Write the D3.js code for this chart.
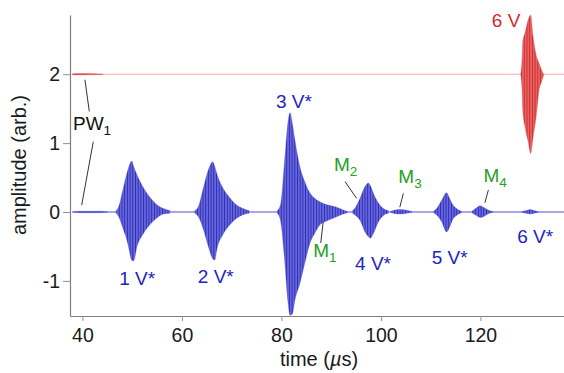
<!DOCTYPE html>
<html>
<head>
<meta charset="utf-8">
<script src="https://cdn.jsdelivr.net/npm/d3@7"></script>
<style>
  body { margin: 0; background: #fff; }
  svg { display: block; }
  text { font-family: "Liberation Sans", Arial, Helvetica, sans-serif; }
</style>
</head>
<body>
<svg id="chart" width="564" height="373"></svg>
<script>
// ---- data ----
const timeTicks = [40, 60, 80, 100, 120];
const ampTicks = [-1, 0, 1, 2];
const timeDomain = [37.5, 136.8];
const ampDomain = [-1.51, 2.86];

const blueBase = 0;
const redBase = 2;
const traceSpan = [37.9, 136.8];

// envelopes of each echo: [time (us), upper, lower]
const pwBlue = [[38.2, 0.005, -0.005], [39.5, 0.012, -0.01], [41.5, 0.01, -0.012], [43.5, 0.012, -0.01], [45.0, 0.005, -0.005]];
const echo1 = [
  [46.8, 0.02, -0.02], [47.3, 0.08, -0.07], [48.2, 0.34, -0.25], [48.9, 0.55, -0.40],
  [49.3, 0.65, -0.52], [49.9, 0.74, -0.70], [50.3, 0.66, -0.71], [50.9, 0.55, -0.52],
  [52.2, 0.36, -0.32], [53.6, 0.21, -0.18], [54.9, 0.11, -0.09], [56.3, 0.05, -0.03], [57.6, 0.02, -0.02]
];
const echo2 = [
  [62.6, 0.02, -0.02], [63.3, 0.08, -0.07], [64.3, 0.35, -0.25], [65.3, 0.61, -0.50],
  [66.2, 0.73, -0.68], [66.6, 0.66, -0.70], [67.0, 0.56, -0.55], [68.3, 0.34, -0.32],
  [69.7, 0.20, -0.18], [71.0, 0.10, -0.09], [72.3, 0.05, -0.04], [73.5, 0.02, -0.02]
];
const echo3 = [
  [79.2, 0.02, -0.02], [79.8, 0.10, -0.12], [80.7, 0.80, -0.75], [81.3, 1.30, -1.30],
  [81.75, 1.44, -1.50], [82.2, 1.28, -1.48], [82.7, 1.05, -1.28], [83.7, 0.66, -1.04],
  [84.7, 0.44, -0.74], [85.7, 0.28, -0.46], [86.7, 0.20, -0.31], [87.7, 0.15, -0.19],
  [89.4, 0.10, -0.12], [91.1, 0.07, -0.07], [92.4, 0.03, -0.03], [93.2, 0.01, -0.01]
];
const echo4 = [
  [94.3, 0.02, -0.02], [94.9, 0.07, -0.05], [95.8, 0.20, -0.12], [96.8, 0.37, -0.29],
  [97.5, 0.42, -0.36], [97.9, 0.38, -0.38], [98.5, 0.27, -0.31], [99.5, 0.13, -0.14],
  [100.5, 0.05, -0.05], [101.5, 0.02, -0.02]
];
const echoM3 = [[101.9, 0.005, -0.005], [102.8, 0.03, -0.025], [104.0, 0.035, -0.03], [105.2, 0.025, -0.02], [106.2, 0.005, -0.005]];
const echo5 = [
  [110.6, 0.01, -0.01], [111.3, 0.06, -0.05], [112.2, 0.17, -0.14], [113.2, 0.28, -0.29],
  [113.8, 0.20, -0.22], [114.5, 0.10, -0.10], [115.2, 0.05, -0.05], [116.2, 0.01, -0.01]
];
const echoM4 = [[118.3, 0.01, -0.01], [119.2, 0.06, -0.05], [119.9, 0.09, -0.08], [120.8, 0.06, -0.06], [121.8, 0.02, -0.02], [122.5, 0.005, -0.005]];
const echo6 = [[128.3, 0.005, -0.005], [129.2, 0.02, -0.02], [130.0, 0.035, -0.03], [130.8, 0.02, -0.02], [131.6, 0.005, -0.005]];

// red trace (6 V), plotted with +2 offset
const pwRed = [[37.9, 2.003, 1.997], [38.6, 2.012, 1.988], [40.5, 2.012, 1.99], [42.5, 2.008, 1.992], [44.1, 2.003, 1.997]];
const echoRed = [
  [128.1, 2.01, 1.99], [128.35, 2.2, 1.8], [128.5, 2.47, 1.48], [128.95, 2.6, 1.24],
  [129.6, 2.79, 1.02], [130.1, 2.86, 0.85], [130.6, 2.55, 1.09], [131.2, 2.28, 1.38],
  [131.8, 2.16, 1.77], [132.3, 2.06, 1.89], [132.7, 2.0, 1.98]
];

const blueEchoes = [pwBlue, echo1, echo2, echo3, echo4, echoM3, echo5, echoM4, echo6];
const redEchoes = [pwRed, echoRed];

// annotations: anchor in data units
const labels = [
  { text: '1 V*', t: 47.4, v: -1.06, c: 'blue' },
  { text: '2 V*', t: 63.2, v: -1.03, c: 'blue' },
  { text: '3 V*', t: 78.9, v: 1.51, c: 'blue' },
  { text: '4 V*', t: 94.8, v: -0.84, c: 'blue' },
  { text: '5 V*', t: 110.2, v: -0.75, c: 'blue' },
  { text: '6 V*', t: 127.4, v: -0.45, c: 'blue' },
  { text: '6 V', t: 122.3, v: 2.69, c: 'red' },
  { text: 'PW', sub: '1', t: 38.1, v: 1.19, c: 'black' },
  { text: 'M', sub: '1', t: 86.4, v: -0.66, c: 'green' },
  { text: 'M', sub: '2', t: 90.57, v: 0.59, c: 'green' },
  { text: 'M', sub: '3', t: 103.5, v: 0.42, c: 'green' },
  { text: 'M', sub: '4', t: 120.6, v: 0.44, c: 'green' }
];
const leaders = [
  [[40.5, 1.92], [41.38, 1.46]],
  [[42.18, 1.02], [39.85, 0.10]],
  [[88.4, -0.14], [87.9, -0.45]],
  [[92.8, 0.44], [95.1, 0.20]],
  [[104.5, 0.27], [103.8, 0.07]],
  [[121.6, 0.32], [120.9, 0.135]]
];

// ---- drawing ----
const colors = { blue: '#2323c4', red: '#d42a2a', green: '#24a024', black: '#111' };
const svg = d3.select('#chart');
const x = d3.scaleLinear().domain(timeDomain).range([70, 564]);
const y = d3.scaleLinear().domain(ampDomain).range([316, 15]);

const defs = svg.append('defs');
function stripes(id, base, dark, mid) {
  const p = defs.append('pattern').attr('id', id)
    .attr('patternUnits', 'userSpaceOnUse').attr('width', 2.7).attr('height', 10);
  p.append('rect').attr('width', 2.7).attr('height', 10).attr('fill', base);
  p.append('rect').attr('x', 0).attr('width', 0.7).attr('height', 10).attr('fill', dark);
  p.append('rect').attr('x', 1.5).attr('width', 0.5).attr('height', 10).attr('fill', mid);
}
stripes('blueFill', '#6e6eea', '#1c1c92', '#4a4ad0');
stripes('redFill', '#f06a6a', '#bb2020', '#dc4444');

const area = d3.area()
  .x(d => x(d[0])).y0(d => y(d[2])).y1(d => y(d[1]))
  .curve(d3.curveMonotoneX);

// baselines
const line = d3.line().x(d => x(d[0])).y(d => y(d[1]));
svg.append('path')
  .attr('d', line(traceSpan.map(t => [t, redBase])))
  .attr('stroke', '#eeaaaa').attr('stroke-width', 1.2).attr('fill', 'none');
svg.append('path')
  .attr('d', line(traceSpan.map(t => [t, blueBase])))
  .attr('stroke', '#5050d0').attr('stroke-width', 1).attr('fill', 'none');

svg.append('g').selectAll('path').data(redEchoes).join('path')
  .attr('d', area)
  .attr('fill', 'url(#redFill)').attr('stroke', '#e45a5a').attr('stroke-width', 0.3);
svg.append('g').selectAll('path').data(blueEchoes).join('path')
  .attr('d', area)
  .attr('fill', 'url(#blueFill)').attr('stroke', '#4a4ad0').attr('stroke-width', 0.3);

// axes
const gx = svg.append('g').attr('transform', `translate(0,316)`)
  .call(d3.axisBottom(x).tickValues(timeTicks).tickSize(5).tickSizeOuter(0).tickPadding(7));
const gy = svg.append('g').attr('transform', `translate(70,0)`)
  .call(d3.axisLeft(y).tickValues(ampTicks).tickSize(7).tickSizeOuter(0).tickPadding(3)
    .tickFormat(d => String(d)));
[gx, gy].forEach(g => {
  g.select('.domain').attr('stroke', '#808080').attr('stroke-width', 1.2);
  g.selectAll('.tick line').attr('stroke', '#909090');
  g.selectAll('.tick text').attr('fill', '#1a1a1a').attr('font-size', 19.5)
    .attr('font-family', '"Liberation Sans", Arial, sans-serif');
});

// leader lines
svg.append('g').selectAll('path').data(leaders).join('path')
  .attr('d', line).attr('stroke', '#333').attr('stroke-width', 1).attr('fill', 'none');

// labels
const lab = svg.append('g').selectAll('text').data(labels).join('text')
  .attr('x', d => x(d.t)).attr('y', d => y(d.v))
  .attr('font-size', 19).attr('fill', d => colors[d.c]);
lab.append('tspan').text(d => d.text);
lab.filter(d => d.sub).append('tspan').attr('dy', 5).attr('font-size', 13.5).text(d => d.sub);

// axis titles
svg.append('text').attr('transform', 'translate(26,165) rotate(-90)')
  .attr('text-anchor', 'middle').attr('font-size', 20).attr('fill', '#1a1a1a')
  .text('amplitude (arb.)');
const xt = svg.append('text').attr('x', 319).attr('y', 366)
  .attr('text-anchor', 'middle').attr('font-size', 20).attr('fill', '#1a1a1a');
xt.append('tspan').text('time (');
xt.append('tspan').attr('font-style', 'italic').text('µ');
xt.append('tspan').text('s)');
</script>
</body>
</html>
